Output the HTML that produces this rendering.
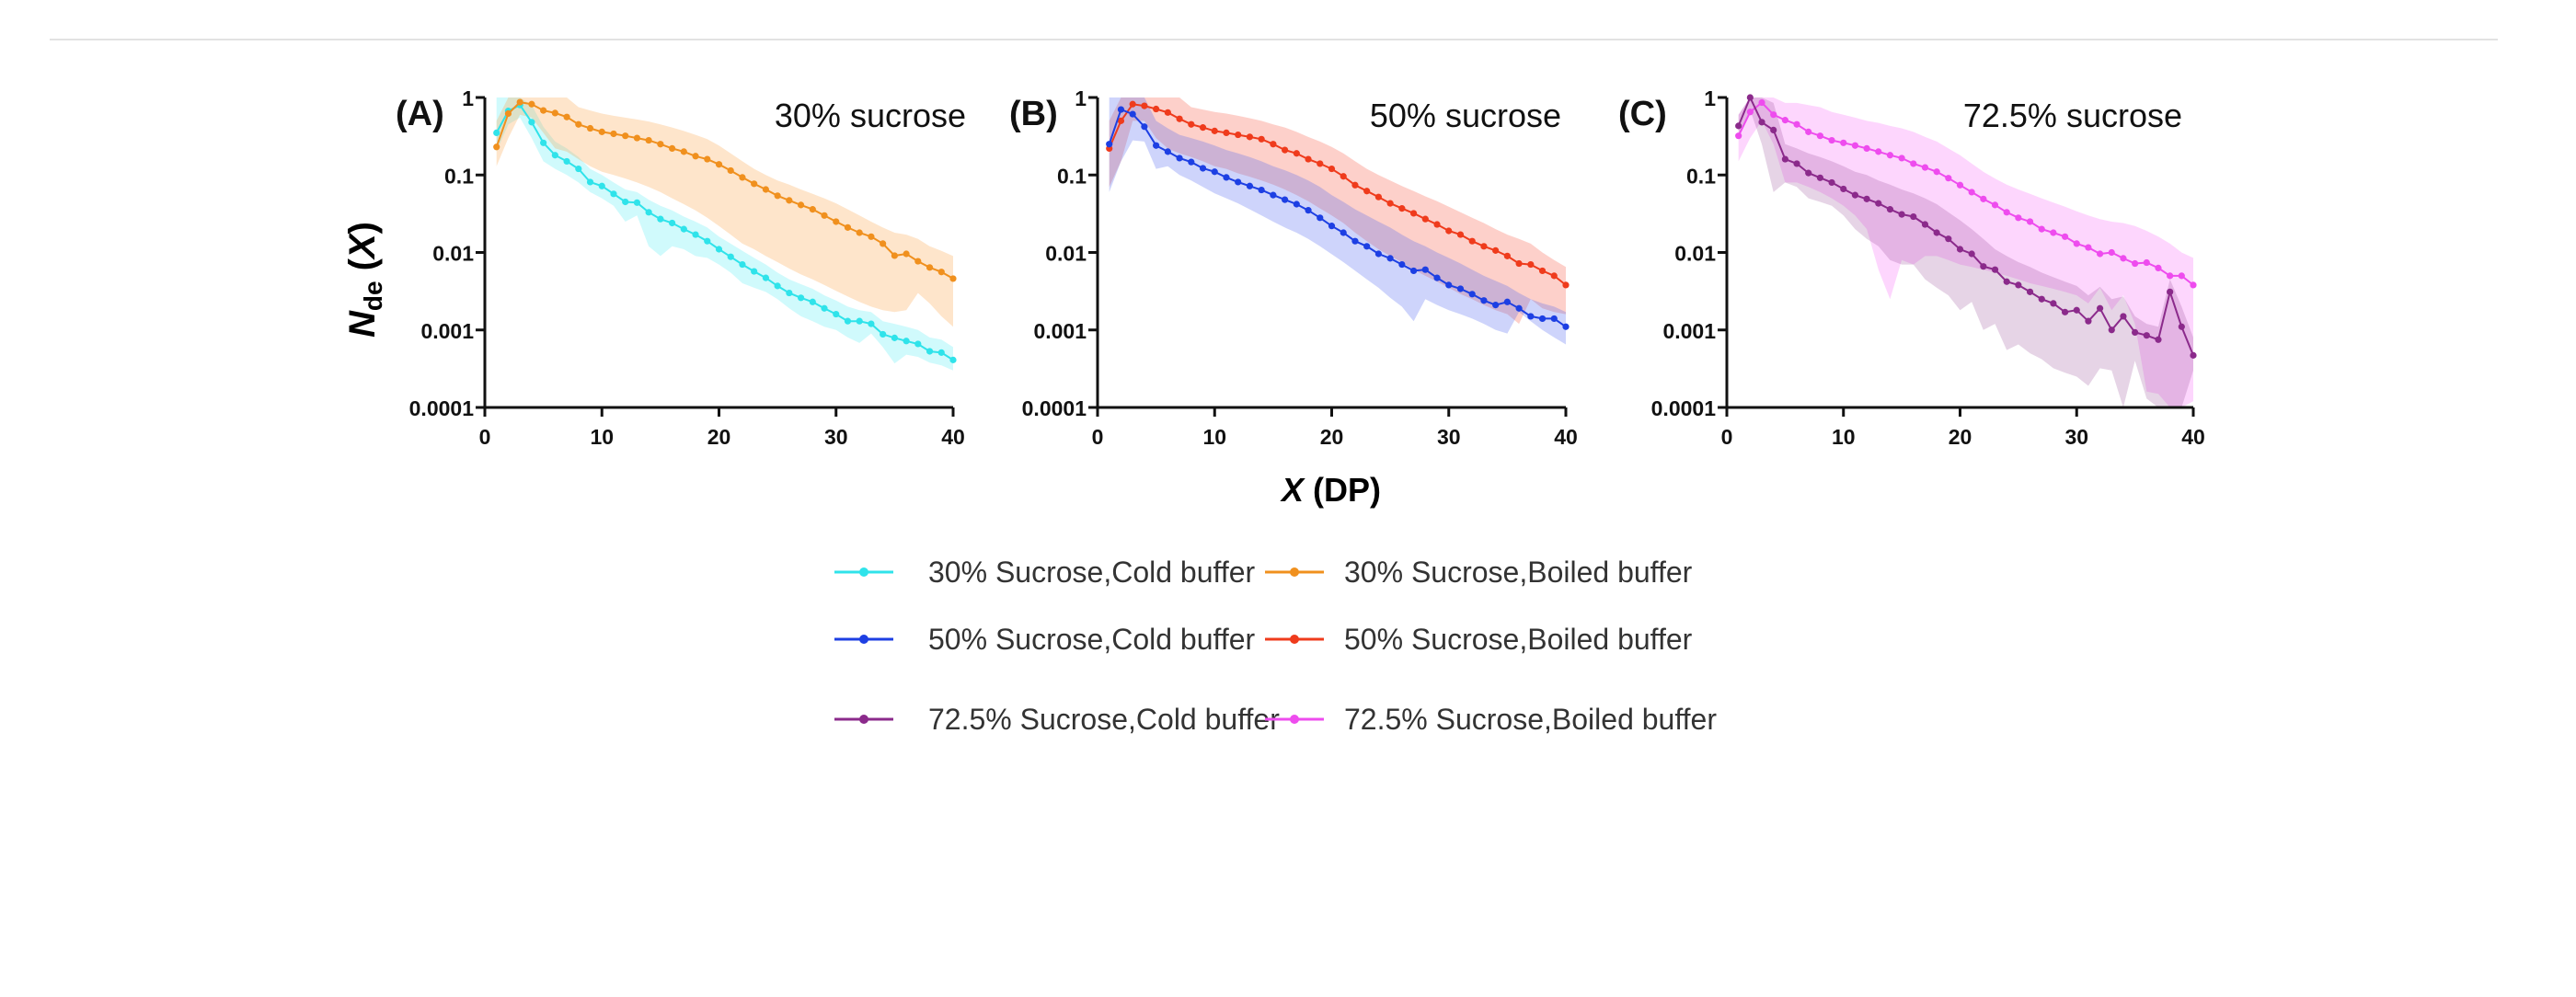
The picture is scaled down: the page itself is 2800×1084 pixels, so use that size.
<!DOCTYPE html>
<html><head><meta charset="utf-8"><style>
html,body{margin:0;padding:0;background:#fff;}
svg{display:block;}
text{font-family:"Liberation Sans",Arial,sans-serif;}
</style></head>
<body>
<svg id="fig" width="2800" height="1084" viewBox="0 0 2800 1084" xmlns="http://www.w3.org/2000/svg">
<line x1="54" y1="43" x2="2715" y2="43" stroke="#e2e2e2" stroke-width="2"/>
<text x="407" y="304" transform="rotate(-90 407 304)" text-anchor="middle" font-size="40" font-weight="bold"><tspan font-style="italic">N</tspan><tspan font-size="28" dy="8">de</tspan><tspan dy="-8"> (</tspan><tspan font-style="italic">X</tspan>)</text>
<text x="1447" y="545" text-anchor="middle" font-size="36" font-weight="bold"><tspan font-style="italic">X</tspan> (DP)</text>
<g id="legend"></g>
</svg>
<script>
const xTicks = [0,10,20,30,40];
const yTicks = [1,0.1,0.01,0.001,0.0001];
const yTickLabels = ["1","0.1","0.01","0.001","0.0001"];
const dp = [1,2,3,4,5,6,7,8,9,10,11,12,13,14,15,16,17,18,19,20,21,22,23,24,25,26,27,28,29,30,31,32,33,34,35,36,37,38,39,40];

const cyanM = [0.35,0.67,0.8,0.48,0.26,0.18,0.15,0.12,0.081,0.072,0.057,0.045,0.044,0.033,0.027,0.024,0.02,0.017,0.014,0.011,0.0088,0.007,0.0057,0.0047,0.0037,0.003,0.0026,0.0023,0.0019,0.0016,0.0013,0.0013,0.0012,0.00088,0.00079,0.00072,0.00066,0.00053,0.00051,0.00041];
const cyanHi = [1,1,1,0.8,0.42,0.27,0.22,0.17,0.12,0.1,0.08,0.065,0.06,0.048,0.04,0.035,0.029,0.025,0.021,0.016,0.013,0.0105,0.0085,0.007,0.0055,0.0045,0.0039,0.0034,0.0028,0.0024,0.002,0.0018,0.0017,0.0013,0.0012,0.0011,0.001,0.0008,0.00075,0.0006];
const cyanLo = [0.2,0.45,0.55,0.3,0.15,0.12,0.1,0.08,0.06,0.05,0.04,0.025,0.03,0.012,0.009,0.012,0.011,0.009,0.0085,0.007,0.0055,0.004,0.0035,0.0031,0.0025,0.0019,0.0015,0.0013,0.0011,0.001,0.0008,0.00068,0.0009,0.0006,0.00037,0.00048,0.00045,0.00038,0.00035,0.0003];

const orangeM = [0.23,0.62,0.87,0.82,0.68,0.63,0.56,0.45,0.40,0.36,0.34,0.32,0.30,0.28,0.25,0.22,0.2,0.175,0.16,0.137,0.114,0.093,0.077,0.065,0.054,0.047,0.041,0.036,0.03,0.025,0.021,0.018,0.016,0.013,0.0091,0.0096,0.0077,0.0064,0.0056,0.0046];
const orangeHi = [0.5,1,1,1,1,1,1,0.75,0.68,0.62,0.58,0.55,0.52,0.49,0.45,0.41,0.37,0.33,0.29,0.24,0.19,0.15,0.12,0.1,0.085,0.075,0.065,0.057,0.05,0.043,0.036,0.03,0.025,0.021,0.018,0.017,0.015,0.012,0.0105,0.009];
const orangeLo = [0.13,0.3,0.6,0.55,0.35,0.22,0.2,0.16,0.13,0.11,0.1,0.09,0.08,0.07,0.06,0.05,0.042,0.035,0.028,0.022,0.017,0.013,0.011,0.009,0.0075,0.0062,0.0052,0.0045,0.0038,0.0032,0.0027,0.0023,0.002,0.0018,0.0017,0.0018,0.003,0.0022,0.0015,0.0011];

const blueM = [0.25,0.70,0.61,0.42,0.24,0.2,0.165,0.147,0.122,0.11,0.093,0.081,0.072,0.064,0.055,0.048,0.042,0.035,0.028,0.022,0.018,0.014,0.012,0.0096,0.0084,0.007,0.0058,0.006,0.0047,0.0038,0.0034,0.0029,0.0024,0.0021,0.0023,0.0019,0.0015,0.0014,0.0014,0.0011];
const blueHi = [1,1,1,1,0.5,0.4,0.33,0.3,0.27,0.24,0.21,0.19,0.17,0.15,0.13,0.115,0.1,0.085,0.07,0.055,0.045,0.036,0.03,0.025,0.021,0.017,0.014,0.012,0.01,0.0085,0.0072,0.006,0.005,0.0043,0.0037,0.003,0.0025,0.0022,0.002,0.0017];
const blueLo = [0.06,0.15,0.28,0.27,0.12,0.13,0.1,0.085,0.07,0.058,0.05,0.043,0.036,0.03,0.025,0.021,0.018,0.015,0.012,0.0095,0.0075,0.0058,0.0045,0.0035,0.0026,0.002,0.0013,0.0025,0.0021,0.0018,0.0016,0.0014,0.0012,0.001,0.0009,0.0017,0.0013,0.001,0.0008,0.00065];

const redM = [0.22,0.5,0.82,0.78,0.71,0.64,0.53,0.45,0.41,0.37,0.35,0.33,0.31,0.29,0.25,0.21,0.19,0.16,0.14,0.12,0.096,0.074,0.062,0.052,0.043,0.037,0.032,0.027,0.023,0.019,0.017,0.014,0.012,0.0106,0.009,0.0072,0.007,0.0058,0.005,0.0038];
const redHi = [0.5,1,1,1,1,1,1,0.75,0.7,0.65,0.62,0.58,0.54,0.5,0.45,0.41,0.36,0.31,0.27,0.23,0.19,0.15,0.12,0.1,0.085,0.072,0.062,0.053,0.046,0.039,0.033,0.028,0.024,0.02,0.017,0.015,0.013,0.01,0.008,0.0065];
const redLo = [0.07,0.15,0.5,0.5,0.3,0.22,0.19,0.17,0.15,0.13,0.12,0.105,0.095,0.085,0.075,0.065,0.055,0.046,0.037,0.03,0.024,0.018,0.014,0.011,0.009,0.0075,0.006,0.005,0.0042,0.0035,0.0029,0.0025,0.0021,0.0018,0.0016,0.0012,0.0025,0.0019,0.0017,0.0016];

const purpleM = [0.43,1.0,0.48,0.38,0.16,0.14,0.106,0.092,0.08,0.066,0.055,0.049,0.043,0.036,0.031,0.029,0.023,0.018,0.015,0.011,0.0096,0.0066,0.006,0.0042,0.0038,0.0031,0.0025,0.0022,0.0017,0.0018,0.0013,0.0019,0.001,0.0015,0.00093,0.00085,0.00075,0.0031,0.0011,0.00047];
const purpleHi = [0.6,1,1,0.85,0.25,0.22,0.19,0.17,0.15,0.13,0.11,0.1,0.085,0.075,0.065,0.058,0.05,0.042,0.033,0.026,0.02,0.015,0.011,0.009,0.0075,0.0065,0.0055,0.0048,0.0042,0.0037,0.0028,0.0036,0.0025,0.0027,0.0015,0.0012,0.0011,0.0045,0.002,0.0008];
const purpleLo = [0.3,0.7,0.25,0.06,0.08,0.07,0.05,0.045,0.04,0.03,0.02,0.015,0.012,0.008,0.007,0.007,0.0045,0.0035,0.0028,0.0018,0.0023,0.001,0.0012,0.00055,0.00065,0.0005,0.00042,0.00032,0.00028,0.00025,0.00019,0.00032,0.0003,0.0001,0.0004,0.00013,0.0001,0.0001,0.0001,0.0003];

const magM = [0.32,0.65,0.86,0.6,0.51,0.45,0.36,0.32,0.28,0.26,0.24,0.22,0.2,0.18,0.165,0.14,0.125,0.11,0.091,0.074,0.06,0.049,0.041,0.033,0.028,0.025,0.02,0.018,0.016,0.013,0.0116,0.0096,0.01,0.0084,0.0072,0.0074,0.0063,0.005,0.005,0.0038];
const magHi = [0.6,1,1,1,0.85,0.85,0.8,0.75,0.65,0.6,0.55,0.5,0.47,0.43,0.4,0.36,0.31,0.27,0.22,0.18,0.14,0.11,0.09,0.075,0.065,0.057,0.05,0.044,0.039,0.034,0.03,0.027,0.025,0.024,0.022,0.019,0.016,0.013,0.01,0.0085];
const magLo = [0.15,0.3,0.5,0.25,0.08,0.08,0.07,0.06,0.05,0.04,0.03,0.02,0.006,0.0025,0.008,0.007,0.009,0.009,0.008,0.007,0.0065,0.006,0.0055,0.005,0.0045,0.004,0.0037,0.0034,0.0031,0.0028,0.0022,0.0035,0.0018,0.0028,0.0012,0.00016,0.00015,0.0001,0.0001,0.00012];

const NS = "http://www.w3.org/2000/svg";
const svg = document.getElementById('fig');
function mk(tag, attrs, parent){ const e=document.createElementNS(NS,tag); for(const k in attrs) e.setAttribute(k,attrs[k]); (parent||svg).appendChild(e); return e; }

const panels = [
  {x0:527,x1:1036,letter:"(A)",lx:430,title:"30% sucrose",tx:1050,
   series:[{name:"30-cold",m:cyanM,hi:cyanHi,lo:cyanLo,c:"#2fe3ea",f:"rgba(40,230,240,0.22)"},
           {name:"30-boiled",m:orangeM,hi:orangeHi,lo:orangeLo,c:"#f0901e",f:"rgba(250,160,70,0.28)"}]},
  {x0:1193,x1:1702,letter:"(B)",lx:1097,title:"50% sucrose",tx:1697,
   series:[{name:"50-red",m:redM,hi:redHi,lo:redLo,c:"#ef3b1c",f:"rgba(248,110,90,0.32)"},
           {name:"50-cold",m:blueM,hi:blueHi,lo:blueLo,c:"#1d3fe3",f:"rgba(80,100,240,0.28)"}]},
  {x0:1877,x1:2384,letter:"(C)",lx:1759,title:"72.5% sucrose",tx:2372,
   series:[{name:"72-boiled",m:magM,hi:magHi,lo:magLo,c:"#ee4cee",f:"rgba(250,120,250,0.3)"},
           {name:"72-cold",m:purpleM,hi:purpleHi,lo:purpleLo,c:"#8b2a8b",f:"rgba(140,60,140,0.22)"}]}
];
const yTop=106, yBot=443;
function clamp(v){ return Math.min(1,Math.max(1e-4,v)); }

panels.forEach((p,pi)=>{
  const g = mk('g',{});
  
  
  const sx = v => p.x0 + (v/40)*(p.x1-p.x0);
  const sy = v => yTop + (-Math.log10(clamp(v)))/4*(yBot-yTop);
  p.series.forEach(s=>{
    let d = dp.map((x,i)=>(i?'L':'M')+sx(x).toFixed(1)+','+sy(s.hi[i]).toFixed(1)).join(' ');
    d += ' ' + dp.slice().reverse().map((x,j)=>{const i=dp.length-1-j; return 'L'+sx(x).toFixed(1)+','+sy(s.lo[i]).toFixed(1);}).join(' ') + ' Z';
    const band = mk('path',{d:d,fill:s.f,stroke:'none'},g);
    
    
  });
  p.series.forEach(s=>{
    const pts = dp.map((x,i)=>sx(x).toFixed(1)+','+sy(s.m[i]).toFixed(1)).join(' ');
    const line = mk('polyline',{points:pts,fill:'none',stroke:s.c,'stroke-width':2},g);
    
    
    dp.forEach((x,i)=>{
      const c = mk('circle',{cx:sx(x),cy:sy(s.m[i]),r:3.6,fill:s.c},g);
      
      
    });
  });
  const ax = mk('path',{d:`M${p.x0},${yTop} L${p.x0},${yBot} L${p.x1},${yBot}`,fill:'none',stroke:'#111','stroke-width':3},g);
  
  
  yTicks.forEach((t,i)=>{
    const y = sy(t);
    mk('line',{x1:p.x0-10,x2:p.x0,y1:y,y2:y,stroke:'#111','stroke-width':3},g);
    const tl = mk('text',{x:p.x0-12,y:y+9,'text-anchor':'end','font-size':23,'font-weight':'bold',fill:'#111'},g);
    tl.textContent = yTickLabels[i];
    
    
  });
  xTicks.forEach(t=>{
    const x = sx(t);
    mk('line',{x1:x,x2:x,y1:yBot,y2:yBot+10,stroke:'#111','stroke-width':3},g);
    const tl = mk('text',{x:x,y:yBot+40,'text-anchor':'middle','font-size':23,'font-weight':'bold',fill:'#111'},g);
    tl.textContent = t;
    
    
  });
  const L = mk('text',{x:p.lx,y:136,'font-size':38,'font-weight':'bold',fill:'#111'},g);
  L.textContent = p.letter;
  
  
  const T = mk('text',{x:p.tx,y:138,'text-anchor':'end','font-size':36,fill:'#111'},g);
  T.textContent = p.title;
  
  
});

const legNames = ["30% Sucrose,Cold buffer","30% Sucrose,Boiled buffer","50% Sucrose,Cold buffer","50% Sucrose,Boiled buffer","72.5% Sucrose,Cold buffer","72.5% Sucrose,Boiled buffer"];
const legColors = ["#2fe3ea","#f0901e","#1d3fe3","#ef3b1c","#8b2a8b","#ee4cee"];
const leg = document.getElementById('legend');
const rowsY=[622,695,782], colLine=[907,1375], colText=[1009,1461];
legNames.forEach((n,i)=>{
  const r=Math.floor(i/2), c=i%2;
  const g = mk('g',{},leg);
  
  
  mk('line',{x1:colLine[c],x2:colLine[c]+64,y1:rowsY[r],y2:rowsY[r],stroke:legColors[i],'stroke-width':3},g);
  mk('circle',{cx:colLine[c]+32,cy:rowsY[r],r:5,fill:legColors[i]},g);
  const t = mk('text',{x:colText[c],y:rowsY[r]+11,'font-size':32,fill:'#333'},g);
  t.textContent = n;
});
</script>
</body></html>
